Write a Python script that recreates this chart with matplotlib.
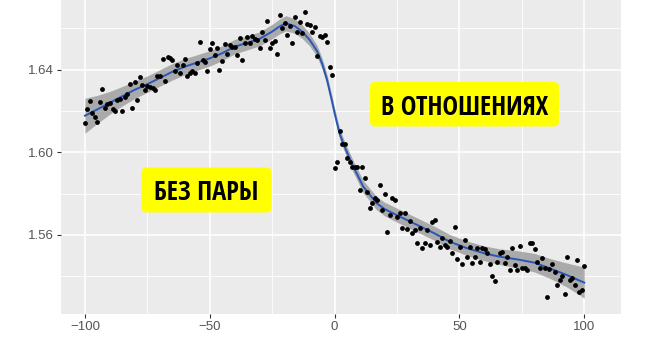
import numpy as np
import matplotlib
matplotlib.use('Agg')
import matplotlib.pyplot as plt
from matplotlib.patches import FancyBboxPatch
from matplotlib.transforms import IdentityTransform

# --- scatter points ---
x_pts = [-100.0, -99.2, -98.1, -97.0, -96.1, -95.1, -94.1, -93.0, -92.1, -91.1,
         -90.1, -88.7, -87.8, -87.1, -86.1, -85.0, -84.1, -83.0, -81.9, -81.0,
         -80.0, -79.1, -78.0, -77.0, -76.0, -75.1, -74.0, -72.9, -72.0, -71.1,
         -70.0, -68.9, -68.0, -66.9, -66.0, -65.1, -64.0, -63.1, -62.0, -60.9,
         -60.0, -59.1, -58.0, -57.1, -56.0, -55.1, -54.0, -52.9, -52.0, -51.1,
         -50.0, -49.1, -48.0, -47.1, -46.3, -45.0, -44.0, -43.0, -42.0, -41.0,
         -40.0, -39.0, -38.0, -37.0, -36.0, -35.0, -33.9, -33.0, -31.9, -31.0,
         -29.9, -29.0, -27.9, -26.9, -25.9, -25.0, -23.9, -23.0, -21.9, -21.0,
         -19.9, -19.0, -17.9, -17.0, -15.9, -15.0, -13.9, -13.0, -11.9, -11.0,
         -9.9, -9.0, -7.9, -7.0, -5.9, -5.0, -3.9, -3.0, -1.9, -1.0,
         0.0, 1.0, 2.1, 3.0, 4.1, 5.1, 6.1, 7.1, 8.1, 9.1,
         10.1, 11.1, 12.1, 13.1, 14.1, 15.1, 16.2, 17.1, 18.2, 19.1,
         20.2, 21.1, 22.2, 23.1, 24.2, 25.1, 26.2, 27.1, 28.2, 29.1,
         30.2, 31.1, 32.2, 33.1, 34.2, 35.1, 36.2, 37.1, 38.2, 39.1,
         40.2, 41.1, 42.2, 43.1, 44.2, 45.1, 46.2, 47.1, 48.2, 49.1,
         50.2, 51.1, 52.2, 53.1, 54.2, 55.1, 56.2, 57.1, 58.2, 59.2,
         60.2, 61.2, 62.2, 63.2, 64.2, 65.2, 66.3, 67.2, 68.3, 69.2,
         70.3, 71.2, 72.3, 73.2, 74.3, 75.2, 76.3, 77.2, 78.3, 79.2,
         80.3, 81.2, 82.3, 83.2, 84.3, 85.1, 86.0, 87.2, 88.2, 89.2,
         90.2, 91.2, 92.2, 93.1, 94.2, 95.1, 96.2, 97.1, 98.0, 99.1, 100.0]
y_pts = [1.6144, 1.6208, 1.6250, 1.6189, 1.6173, 1.6147, 1.6245, 1.6307, 1.6213, 1.6234,
         1.6238, 1.6208, 1.6202, 1.6254, 1.6257, 1.6200, 1.6270, 1.6283, 1.6331, 1.6213,
         1.6342, 1.6254, 1.6364, 1.6326, 1.6302, 1.6321, 1.6318, 1.6310, 1.6302, 1.6370,
         1.6370, 1.6451, 1.6346, 1.6464, 1.6456, 1.6448, 1.6396, 1.6423, 1.6383, 1.6423,
         1.6451, 1.6370, 1.6386, 1.6394, 1.6386, 1.6434, 1.6536, 1.6448, 1.6439, 1.6396,
         1.6499, 1.6531, 1.6472, 1.6504, 1.6399, 1.6443, 1.6525, 1.6477, 1.6520, 1.6512,
         1.6509, 1.6472, 1.6553, 1.6448, 1.6531, 1.6560, 1.6528, 1.6565, 1.6548, 1.6544,
         1.6504, 1.6582, 1.6544, 1.6638, 1.6504, 1.6528, 1.6541, 1.6475, 1.6666, 1.6601,
         1.6628, 1.6569, 1.6612, 1.6531, 1.6655, 1.6585, 1.6633, 1.6577, 1.6679, 1.6622,
         1.6617, 1.6585, 1.6606, 1.6467, 1.6564, 1.6560, 1.6569, 1.6536, 1.6412, 1.6375,
         1.5924, 1.5952, 1.6103, 1.6039, 1.6039, 1.5971, 1.5954, 1.5930, 1.5930, 1.5930,
         1.5817, 1.5927, 1.5874, 1.5809, 1.5731, 1.5753, 1.5777, 1.5769, 1.5841, 1.5720,
         1.5796, 1.5615, 1.5696, 1.5777, 1.5769, 1.5688, 1.5704, 1.5632, 1.5704, 1.5628,
         1.5668, 1.5607, 1.5623, 1.5562, 1.5632, 1.5535, 1.5559, 1.5623, 1.5551, 1.5664,
         1.5672, 1.5567, 1.5542, 1.5586, 1.5551, 1.5542, 1.5570, 1.5510, 1.5639, 1.5481,
         1.5542, 1.5457, 1.5575, 1.5491, 1.5542, 1.5462, 1.5494, 1.5535, 1.5470, 1.5535,
         1.5530, 1.5513, 1.5457, 1.5402, 1.5376, 1.5470, 1.5513, 1.5518, 1.5465, 1.5494,
         1.5429, 1.5537, 1.5454, 1.5429, 1.5546, 1.5438, 1.5438, 1.5429, 1.5559, 1.5559,
         1.5530, 1.5467, 1.5438, 1.5486, 1.5438, 1.5297, 1.5433, 1.5458, 1.5418, 1.5357,
         1.5381, 1.5400, 1.5313, 1.5494, 1.5381, 1.5389, 1.5357, 1.5478, 1.5324, 1.5332, 1.5449]

# --- smoothed trend and its confidence half-width ---
x_fit = [-100, -95, -90, -85, -80, -75, -70, -65, -60, -55, -50, -45, -40, -35,
         -30, -25, -22, -19.5, -16, -13, -10, -7, -5, -3, -1, 0, 2, 4, 7.5,
         11.5, 16.8, 20, 24.8, 33, 40, 46, 53, 60, 66, 73, 80, 86, 93, 100]
y_fit = [1.6177, 1.6208, 1.6240, 1.6272, 1.6303, 1.6330, 1.6360, 1.6390, 1.6415, 1.6435,
         1.6455, 1.6480, 1.6512, 1.6530, 1.6550, 1.6585, 1.6610, 1.6625, 1.6612, 1.6585,
         1.6545, 1.6490, 1.6430, 1.6350, 1.6245, 1.6190, 1.6090, 1.6027, 1.5930,
         1.5833, 1.5753, 1.5725, 1.5696, 1.5648, 1.5607, 1.5567, 1.5535, 1.5510, 1.5494,
         1.5481, 1.5465, 1.5438, 1.5405, 1.5368]
band = [0.0085, 0.0068, 0.0055, 0.0047, 0.0042, 0.0040, 0.0040, 0.0040, 0.0039, 0.0038,
        0.0037, 0.0036, 0.0035, 0.0034, 0.0034, 0.0035, 0.0036, 0.0037, 0.0035, 0.0033,
        0.0030, 0.0028, 0.0026, 0.0025, 0.0025, 0.0025, 0.0025, 0.0026, 0.0028,
        0.0030, 0.0032, 0.0033, 0.0034, 0.0034, 0.0034, 0.0035, 0.0035, 0.0036, 0.0038,
        0.0042, 0.0045, 0.0048, 0.0058, 0.0075]

x_ticks = [-100, -50, 0, 50, 100]
y_ticks = [1.56, 1.60, 1.64]
y_minor = [1.54, 1.58, 1.62, 1.66]
x_minor = [-75, -25, 25, 75]

W, H = 650, 341
fig = plt.figure(figsize=(W / 100, H / 100), dpi=100)
ax = fig.add_axes([0.0938, 0.0792, 0.8615, 0.9208])
ax.set_facecolor('#EBEBEB')
for s in ax.spines.values():
    s.set_visible(False)

ax.set_xlim(-109.6, 114.7)
ax.set_ylim(1.5216, 1.6738)
ax.set_xticks(x_ticks)
ax.set_yticks(y_ticks)
ax.set_xticks(x_minor, minor=True)
ax.set_yticks(y_minor, minor=True)
ax.set_yticklabels(['%.2f' % v for v in y_ticks])
ax.grid(which='major', color='white', lw=1.2)
ax.grid(which='minor', color='white', lw=0.6)
ax.set_axisbelow(True)
ax.tick_params(which='major', length=3, width=0.8, color='#333333', labelcolor='#555555',
               labelsize=9.5, pad=2)
ax.tick_params(which='minor', length=0)
for lab in ax.get_xticklabels() + ax.get_yticklabels():
    lab.set_family(['Liberation Sans', 'DejaVu Sans'])

xf = np.array(x_fit); yf = np.array(y_fit); bd = np.array(band)
ax.fill_between(xf, yf - bd, yf + bd, color='#8f8f8f', alpha=0.7, lw=0, zorder=2)
ax.plot(xf, yf, color='#2A56B8', lw=1.4, zorder=3)
ax.scatter(x_pts, y_pts, s=12, color='black', lw=0, zorder=4)

# yellow labels, box given in image pixels (top-left origin)
def label(x0, y0, x1, y1, txt):
    box = FancyBboxPatch((x0, H - y1), x1 - x0, y1 - y0,
                         boxstyle='round,pad=0,rounding_size=5',
                         transform=IdentityTransform(), facecolor='#FFFF00',
                         edgecolor='none', zorder=5)
    fig.patches.append(box)
    fig.text((x0 + x1) / 2 / W, 1 - (y0 + y1) / 2 / H, txt, ha='center', va='center_baseline',
             fontsize=19, fontweight='bold', color='black',
             family=['Open Sans Condensed', 'DejaVu Sans'], zorder=6)

label(141.5, 167.5, 271.5, 212.5, 'БЕЗ ПАРЫ')
label(370, 82, 559, 126.5, 'В ОТНОШЕНИЯХ')

fig.savefig('out.png', dpi=100)
